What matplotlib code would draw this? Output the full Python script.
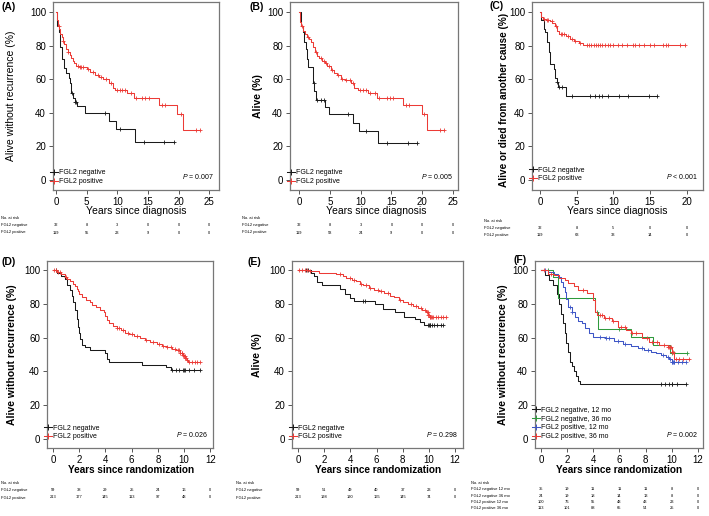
import numpy as np
import matplotlib
matplotlib.use('Agg')
import matplotlib.pyplot as plt
from matplotlib.transforms import blended_transform_factory
from matplotlib.lines import Line2D

plt.rcParams['font.family'] = ['Liberation Sans', 'DejaVu Sans']
plt.rcParams['mathtext.fontset'] = 'custom'
plt.rcParams['mathtext.it'] = 'Liberation Sans:italic'
plt.rcParams['mathtext.rm'] = 'Liberation Sans'

BLACK = '#1a1a1a'
RED = '#ec3b36'
GREEN = '#2f9a3c'
BLUE = '#3d55c6'

# ---------------- data ----------------
# (A) recurrence-free, by diagnosis
a_neg_t = [0, 0.2, 0.5, 0.6, 1.0, 1.3, 1.7, 2.1, 2.3, 2.5, 2.7, 3.1, 3.4, 4.8, 8.7, 9.8, 12.9]
a_neg_s = [100, 92, 88, 79, 72, 66.5, 63.5, 60.5, 57.5, 51.6, 48.6, 46.6, 44.3, 40, 35.3, 30.2, 22.6]
a_neg_end = 19.2
a_neg_cens = [2.6, 3.1, 3.3, 8.0, 10.5, 14.3, 17.6, 19.2]
a_pos_t = [0, 0.1, 0.3, 0.5, 0.7, 0.9, 1.1, 1.3, 1.6, 1.9, 2.2, 2.5, 2.7, 3.0, 3.3, 3.9, 5.0,
           5.5, 6.3, 7.0, 7.7, 8.7, 9.3, 9.7, 11.6, 12.7, 16.8, 19.8, 20.7]
a_pos_s = [100, 95, 92, 90, 87, 85, 82.5, 81, 78, 76, 74.5, 72.5, 71, 69.5, 68, 67, 66,
           64.5, 62.5, 61.5, 60, 57.5, 55, 53.5, 51.5, 49, 44.6, 39.5, 29.6]
a_pos_end = 23.5
a_pos_cens = [0.4, 1.2, 2.0, 3.6, 3.9, 4.1, 4.4, 5.2, 6.0, 6.8, 7.3, 8.2, 9.0, 9.9, 10.4,
              10.8, 11.3, 12.2, 13.0, 14.0, 14.6, 15.2, 17.3, 17.8, 20.4, 22.8, 23.5]

# (B) overall survival, by diagnosis
b_neg_t = [0, 0.27, 0.6, 0.8, 1.1, 1.25, 1.5, 2.2, 2.35, 2.5, 2.7, 4.2, 4.8, 8.7, 9.8, 12.9]
b_neg_s = [100, 92, 88, 82, 78, 72, 67, 64, 58, 53, 47.5, 43.5, 39, 34, 29.2, 21.8]
b_neg_end = 19.2
b_neg_cens = [2.4, 3.0, 3.5, 4.0, 8.0, 10.8, 14.3, 17.7, 19.2]
b_pos_t = [0, 0.1, 0.3, 0.6, 0.9, 1.3, 1.6, 2.0, 2.3, 2.6, 2.9, 3.3, 3.7, 4.2, 4.6, 5.2, 5.7,
           6.1, 6.8, 7.5, 8.5, 9.0, 9.6, 11.2, 12.6, 16.9, 19.9, 20.7]
b_pos_s = [100, 94, 92, 89, 87, 85, 84, 82, 79, 76, 74, 72.5, 71, 69.5, 68, 65.5, 64,
           62.5, 60, 59.5, 58, 55, 53.5, 51.5, 48.6, 44.6, 39.5, 29.5]
b_pos_end = 23.6
b_pos_cens = [0.5, 1.4, 2.8, 3.6, 4.0, 4.4, 4.9, 5.4, 6.3, 6.9, 7.6, 8.2, 8.8, 9.9, 10.4,
              10.9, 11.5, 12.3, 13.0, 14.2, 14.8, 15.3, 17.3, 17.9, 20.3, 22.8, 23.6]

# (C) alive or died from another cause, by diagnosis
c_neg_t = [0, 0.1, 0.5, 0.7, 0.95, 1.2, 1.4, 1.9, 2.1, 2.3, 2.5, 3.6]
c_neg_s = [100, 95, 90, 88, 82, 76, 69, 66, 61, 58.5, 55.5, 50]
c_neg_end = 16.0
c_neg_cens = [2.3, 2.6, 3.0, 4.4, 6.8, 7.5, 8.1, 8.4, 9.2, 10.8, 12.0, 14.8, 16.0]
c_pos_t = [0, 0.1, 0.4, 0.8, 1.3, 1.7, 2.0, 2.3, 2.6, 3.6, 4.1, 4.6, 5.3, 5.9]
c_pos_s = [100, 97, 96, 95, 94.5, 93.5, 91.5, 89, 87, 85.5, 84, 82.5, 81.5, 80.3]
c_pos_end = 19.8
c_pos_cens = [0.5, 0.9, 1.1, 1.6, 2.2, 2.8, 3.0, 3.3, 3.8, 4.3, 4.8, 5.5, 6.4, 6.7, 7.0,
              7.3, 7.6, 7.9, 8.2, 8.4, 8.8, 9.2, 9.6, 10.0, 10.6, 11.2, 11.8, 12.6, 13.0,
              13.5, 14.2, 15.0, 15.5, 16.8, 17.1, 17.4, 19.0, 19.8]

# (D) recurrence-free, by randomization
d_neg_t = [0, 0.3, 0.6, 0.9, 1.1, 1.3, 1.45, 1.55, 1.65, 1.8, 1.9, 1.95, 2.05, 2.2, 2.4,
           2.8, 4.0, 4.1, 4.3, 6.8, 8.6, 9.0]
d_neg_s = [100, 98.3, 96.6, 94.9, 91.5, 88.1, 84.7, 81.4, 76.3, 71.2, 66.1, 62.7, 59.3,
           55.9, 54.2, 52.5, 50.8, 47.4, 45.7, 44.0, 42.3, 40.6]
d_neg_end = 11.2
d_neg_cens = [0.2, 9.1, 9.35, 9.6, 9.95, 10.0, 10.05, 10.4, 10.75, 11.2]
d_pos_t = [0, 0.3, 0.6, 0.9, 1.1, 1.3, 1.5, 1.7, 1.8, 1.9, 2.0, 2.2, 2.5, 2.8, 3.0, 3.3,
           3.6, 3.9, 4.0, 4.1, 4.3, 4.6, 4.9, 5.2, 5.5, 5.8, 6.2, 6.6, 7.0, 7.4, 7.9, 8.3,
           8.7, 9.1, 9.4, 9.7, 9.9, 10.0, 10.1, 10.2, 10.3]
d_pos_s = [100, 99, 97.5, 96, 95, 93.5, 92, 90.5, 89, 87.5, 86, 84, 82.5, 81, 79.5, 78,
           76.5, 75, 73, 70.5, 68.5, 67, 66, 64.5, 63, 62, 61, 59.5, 58.5, 57.5, 56, 55,
           54.5, 53.5, 52.5, 51, 50, 49, 48, 47, 45.8]
d_pos_end = 11.2
d_pos_cens = [0.1, 0.2, 0.4, 0.5, 1.0, 4.9, 5.0, 5.3, 5.7, 6.0, 6.4, 7.1, 7.6, 8.1, 8.4,
              8.7, 9.0, 9.3, 9.5, 9.6, 9.7, 9.8, 9.85, 9.9, 9.95, 10.0, 10.05, 10.1, 10.15,
              10.2, 10.4, 10.6, 10.8, 11.0, 11.2]

# (E) overall survival, by randomization
e_neg_t = [0, 1.0, 1.2, 1.45, 1.8, 3.2, 3.6, 4.0, 4.3, 5.9, 6.5, 7.4, 8.1, 8.9, 9.3, 9.6]
e_neg_s = [100, 98.3, 96.6, 93.2, 91.0, 89.1, 85.7, 83.7, 82.0, 80.2, 77.1, 75.3, 72.2,
           71.0, 69.2, 67.8]
e_neg_end = 11.1
e_neg_cens = [0.6, 0.8, 5.0, 5.1, 9.9, 10.0, 10.05, 10.1, 10.2, 10.4, 10.6, 10.9, 11.1]
e_pos_t = [0, 0.9, 1.6, 2.9, 3.4, 3.7, 4.1, 4.4, 4.7, 5.0, 5.4, 5.8, 6.2, 6.6, 7.0, 7.3,
           7.7, 8.0, 8.4, 8.8, 9.2, 9.5, 9.8, 9.95, 10.05]
e_pos_s = [100, 99.5, 98.2, 97.5, 96.5, 95.5, 94.5, 93.4, 92, 91, 89.5, 88.5, 87.5, 86.5,
           85, 84, 82.5, 81, 79.8, 78.6, 77.5, 76.5, 75, 73.5, 72.3]
e_pos_end = 11.3
e_pos_cens = [0.1, 0.3, 0.5, 0.7, 0.9, 3.2, 4.0, 4.3, 4.8, 5.2, 5.5, 6.1, 6.3, 6.9, 7.8,
              8.6, 9.0, 9.4, 9.7, 9.85, 9.9, 9.95, 10.0, 10.05, 10.1, 10.15, 10.2, 10.3,
              10.5, 10.7, 10.9, 11.1, 11.3]

# (F) recurrence-free by FGL2 status and treatment duration
f_n12_t = [0, 0.3, 0.6, 0.9, 1.2, 1.4, 1.55, 1.7, 1.85, 1.95, 2.05, 2.2, 2.35, 2.5, 2.65, 2.8, 3.0]
f_n12_s = [100, 97.1, 94.3, 91.4, 85.7, 80.0, 74.3, 68.6, 62.9, 57.1, 51.4, 45.7, 42.9,
           40.0, 37.1, 34.3, 32.4]
f_n12_end = 11.1
f_n12_cens = [9.2, 9.5, 9.8, 10.0, 10.05, 10.4, 11.1]
f_n36_t = [0, 0.9, 1.3, 4.1, 4.4, 6.9, 8.6, 9.9]
f_n36_s = [100, 95.8, 83.3, 75.0, 65.0, 60.5, 55.5, 51]
f_n36_end = 11.2
f_n36_cens = [0.5, 4.3, 6.0, 10.0, 10.2, 11.2]
f_p12_t = [0, 0.5, 1.0, 1.3, 1.5, 1.65, 1.8, 1.95, 2.1, 2.35, 2.6, 2.85, 3.1, 3.4, 3.7,
           4.0, 4.9, 5.6, 6.3, 6.9, 7.4, 7.9, 8.4, 8.8, 9.2, 9.6, 9.8, 10.0]
f_p12_s = [100, 99, 98, 96, 93, 90, 87, 83, 78, 75, 72.4, 70, 68.5, 65.5, 63, 60.5, 59.5,
           58, 56.5, 55, 53.6, 52.6, 51.6, 50.6, 49.6, 48.6, 47.6, 45.6]
f_p12_end = 11.1
f_p12_cens = [0.3, 2.2, 2.4, 4.5, 5.0, 5.2, 5.9, 6.4, 7.7, 8.2, 9.3, 9.7, 9.9, 10.0,
              10.05, 10.1, 10.15, 10.2, 10.5, 10.8, 11.1]
f_p36_t = [0, 0.5, 1.0, 1.4, 1.8, 2.1, 2.5, 2.85, 3.5, 4.0, 4.1, 4.25, 4.8, 5.4, 5.9, 6.5,
           6.9, 7.7, 8.3, 9.0, 9.7, 10.0, 10.2]
f_p36_s = [100, 98, 97, 95.5, 94, 92.5, 90.5, 88.5, 86.5, 82.5, 75.5, 73.5, 71.5, 69.6,
           66.6, 64.6, 62.6, 59.7, 57.7, 55.7, 54.7, 51.6, 47.6]
f_p36_end = 11.3
f_p36_cens = [0.2, 0.8, 3.2, 4.5, 4.7, 4.9, 5.2, 5.5, 6.1, 6.4, 7.0, 7.3, 8.1, 8.5, 8.9,
              9.4, 9.7, 9.8, 9.9, 9.95, 10.0, 10.05, 10.1, 10.3, 10.6, 10.9, 11.3]

# numbers at risk
diag_times = [0, 5, 10, 15, 20, 25]
c_times = [0, 5, 10, 15, 20]
rand_times = [0, 2, 4, 6, 8, 10, 12]
a_risk_neg = [32, 8, 3, 0, 0, 0]
a_risk_pos = [119, 55, 23, 9, 0, 0]
b_risk_neg = [32, 8, 3, 0, 0, 0]
b_risk_pos = [119, 58, 24, 9, 0, 0]
c_risk_neg = [32, 8, 5, 0, 0]
c_risk_pos = [119, 63, 33, 14, 0]
d_risk_neg = [59, 38, 29, 25, 24, 16, 0]
d_risk_pos = [213, 177, 145, 113, 97, 48, 0]
e_risk_neg = [59, 51, 49, 40, 37, 23, 0]
e_risk_pos = [213, 198, 190, 165, 145, 74, 0]
f_risk_n12 = [35, 19, 11, 11, 11, 8, 0]
f_risk_n36 = [24, 19, 18, 14, 13, 8, 0]
f_risk_p12 = [100, 76, 55, 48, 43, 23, 0]
f_risk_p36 = [113, 101, 88, 65, 54, 25, 0]

p_values = ['= 0.007', '= 0.005', '< 0.001', '= 0.026', '= 0.298', '= 0.002']

# ---------------- drawing ----------------
W, H = 709, 516
fig = plt.figure(figsize=(W / 100, H / 100), dpi=100)


def fx(x):
    return x / W


def fy(y):
    return 1 - y / H


def km(ax, t, s, end, cens, color):
    tt = list(t) + [end]
    ss = list(s) + [s[-1]]
    ax.step(tt, ss, where='post', color=color, lw=0.75)
    idx = np.searchsorted(np.array(t), np.array(cens), side='right') - 1
    cy = np.array(s)[idx]
    ax.plot(cens, cy, ls='none', marker='+', ms=3.5, mew=0.6, color=color)


def panel(rect, xlim, ylim, xticks, letter, letter_xy, pval):
    x0, y0, x1, y1 = rect
    ax = fig.add_axes([fx(x0), fy(y1), (x1 - x0) / W, (y1 - y0) / H])
    ax.set_xlim(*xlim)
    ax.set_ylim(*ylim)
    ax.set_xticks(xticks)
    ax.set_yticks([0, 20, 40, 60, 80, 100])
    ax.tick_params(labelsize=7, length=3, width=0.7, color='#555555', pad=2)
    for sp in ax.spines.values():
        sp.set_color('#777777')
        sp.set_linewidth(0.9)
    fig.text(fx(letter_xy[0]), fy(letter_xy[1]), letter, fontsize=7.5, fontweight='bold', va='center')
    ax.text(0.97, 0.07, r'$P$ ' + pval, transform=ax.transAxes, ha='right', va='center',
            fontsize=5)
    return ax


def risk(ax, times, rows, labels, label_x, y_start, dy):
    tr = blended_transform_factory(ax.transData, fig.transFigure)
    fig.text(fx(label_x), fy(y_start), 'No. at risk', fontsize=2.9, va='center')
    for i, (lab, vals) in enumerate(zip(labels, rows)):
        y = fy(y_start + dy * (i + 1))
        fig.text(fx(label_x), y, lab, fontsize=2.9, va='center')
        for t, v in zip(times, vals):
            ax.text(t, y, str(v), transform=tr, fontsize=2.9, ha='center', va='center')


def legend(ax, colors, labels, y_top):
    handles = [Line2D([0], [0], color=c, lw=0.75, marker='+', ms=5, mew=0.7) for c in colors]
    ax.legend(handles, labels, loc='upper left', bbox_to_anchor=(-0.02, y_top),
              frameon=False, fontsize=5, handlelength=1.2, handletextpad=0.2,
              labelspacing=0.25, borderaxespad=0, borderpad=0)


two_lab = ['FGL2 negative', 'FGL2 positive']

# (A)
ax = panel((53, 2, 219, 190), (-0.5, 26.6), (-6, 106), diag_times, '(A)', (2, 7), p_values[0])
km(ax, a_neg_t, a_neg_s, a_neg_end, a_neg_cens, BLACK)
km(ax, a_pos_t, a_pos_s, a_pos_end, a_pos_cens, RED)
legend(ax, [BLACK, RED], two_lab, 0.11)
fig.text(fx(11), fy(96), 'Alive without recurrence (%)', rotation=90, fontsize=7.5, ha='center', va='center')
fig.text(fx(136), fy(211), 'Years since diagnosis', fontsize=7.5, ha='center', va='center')
risk(ax, diag_times, [a_risk_neg, a_risk_pos], two_lab, 1, 217.5, 7.5)

# (B)
ax = panel((290, 2, 458, 190), (-1.46, 25.8), (-6, 106), diag_times, '(B)', (250, 7), p_values[1])
km(ax, b_neg_t, b_neg_s, b_neg_end, b_neg_cens, BLACK)
km(ax, b_pos_t, b_pos_s, b_pos_end, b_pos_cens, RED)
legend(ax, [BLACK, RED], two_lab, 0.11)
fig.text(fx(258), fy(96), 'Alive (%)', rotation=90, fontsize=7.5, fontweight='bold', ha='center', va='center')
fig.text(fx(376), fy(211), 'Years since diagnosis', fontsize=7.5, ha='center', va='center')
risk(ax, diag_times, [b_risk_neg, b_risk_pos], two_lab, 242, 217.5, 7.5)

# (C)
ax = panel((532, 2, 703, 190), (-1.09, 22.2), (-6, 106), c_times, '(C)', (489, 6), p_values[2])
km(ax, c_neg_t, c_neg_s, c_neg_end, c_neg_cens, BLACK)
km(ax, c_pos_t, c_pos_s, c_pos_end, c_pos_cens, RED)
legend(ax, [BLACK, RED], two_lab, 0.125)
fig.text(fx(504), fy(100), 'Alive or died from another cause (%)', rotation=90, fontsize=7.2, fontweight='bold', ha='center', va='center')
fig.text(fx(617), fy(211), 'Years since diagnosis', fontsize=7.5, ha='center', va='center')
risk(ax, c_times, [c_risk_neg, c_risk_pos], two_lab, 484, 220.5, 7.5)

# (D)
ax = panel((47, 261, 213, 448), (-0.46, 12.2), (-5.5, 105.5), rand_times, '(D)', (2, 262), p_values[3])
km(ax, d_neg_t, d_neg_s, d_neg_end, d_neg_cens, BLACK)
km(ax, d_pos_t, d_pos_s, d_pos_end, d_pos_cens, RED)
legend(ax, [BLACK, RED], two_lab, 0.125)
fig.text(fx(12), fy(355), 'Alive without recurrence (%)', rotation=90, fontsize=7.5, fontweight='bold', ha='center', va='center')
fig.text(fx(131), fy(470), 'Years since randomization', fontsize=7.2, fontweight='bold', ha='center', va='center')
risk(ax, rand_times, [d_risk_neg, d_risk_pos], two_lab, 1, 482.5, 7.5)

# (E)
ax = panel((292, 261, 463, 448), (-0.46, 12.6), (-5.5, 105.5), rand_times, '(E)', (248, 262), p_values[4])
km(ax, e_neg_t, e_neg_s, e_neg_end, e_neg_cens, BLACK)
km(ax, e_pos_t, e_pos_s, e_pos_end, e_pos_cens, RED)
legend(ax, [BLACK, RED], two_lab, 0.125)
fig.text(fx(257), fy(355), 'Alive (%)', rotation=90, fontsize=7.5, fontweight='bold', ha='center', va='center')
fig.text(fx(378), fy(470), 'Years since randomization', fontsize=7.2, fontweight='bold', ha='center', va='center')
risk(ax, rand_times, [e_risk_neg, e_risk_pos], two_lab, 236, 482.5, 7.5)

# (F)
ax = panel((535, 261, 703, 448), (-0.46, 12.4), (-5.5, 105.5), rand_times, '(F)', (513, 260), p_values[5])
km(ax, f_n12_t, f_n12_s, f_n12_end, f_n12_cens, BLACK)
km(ax, f_n36_t, f_n36_s, f_n36_end, f_n36_cens, GREEN)
km(ax, f_p12_t, f_p12_s, f_p12_end, f_p12_cens, BLUE)
km(ax, f_p36_t, f_p36_s, f_p36_end, f_p36_cens, RED)
f_lab = ['FGL2 negative, 12 mo', 'FGL2 negative, 36 mo', 'FGL2 positive, 12 mo', 'FGL2 positive, 36 mo']
legend(ax, [BLACK, GREEN, BLUE, RED], f_lab, 0.22)
fig.text(fx(503), fy(355), 'Alive without recurrence (%)', rotation=90, fontsize=7.5, fontweight='bold', ha='center', va='center')
fig.text(fx(619), fy(470), 'Years since randomization', fontsize=7.2, fontweight='bold', ha='center', va='center')
f_rlab = ['FGL2 negative 12 mo', 'FGL2 negative 36 mo', 'FGL2 positive 12 mo', 'FGL2 positive 36 mo']
risk(ax, rand_times, [f_risk_n12, f_risk_n36, f_risk_p12, f_risk_p36], f_rlab, 471, 483, 6.3)

fig.savefig('out.png', dpi=100)
